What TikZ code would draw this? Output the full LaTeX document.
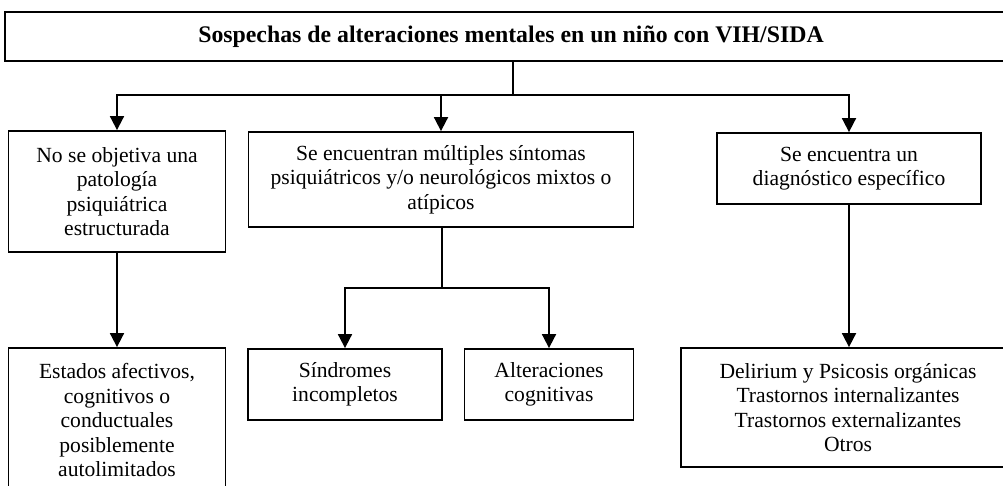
\documentclass[tikz,border=0pt]{standalone}
\usepackage{fontspec}
\setmainfont{Liberation Serif}
\usetikzlibrary{arrows.meta}
\begin{document}
\begin{tikzpicture}[x=1pt,y=-1pt,
  box/.style={draw,line width=1.8pt,align=center,inner sep=0pt,
    font=\fontsize{21.6}{24.5}\selectfont},
  conn/.style={line width=1.8pt},
  arr/.style={conn,-{Triangle[width=14pt,length=14pt]}}]
\useasboundingbox (0,0) rectangle (1003,486);
\node[box,minimum width=1012pt,minimum height=49pt,font=\fontsize{23.8}{26}\selectfont\bfseries] (top) at (511,36.5) {Sospechas de alteraciones mentales en un niño con VIH/SIDA};
\node[box,minimum width=217pt,minimum height=121pt] (A) at (117,191.5) {No se objetiva una\\patología\\psiquiátrica\\estructurada};
\node[box,minimum width=385pt,minimum height=95pt] (B) at (441,179.5) {Se encuentran múltiples síntomas\\psiquiátricos y/o neurológicos mixtos o\\atípicos};
\node[box,minimum width=264pt,minimum height=71pt] (C) at (849,168.5) {Se encuentra un\\diagnóstico específico};
\node[box,minimum width=217pt,minimum height=144pt] (D) at (117,420) {Estados afectivos,\\cognitivos o\\conductuales\\posiblemente\\autolimitados};
\node[box,minimum width=194pt,minimum height=71pt] (E) at (345,384.5) {Síndromes\\incompletos};
\node[box,minimum width=169pt,minimum height=71pt] (F) at (549,384.5) {Alteraciones\\cognitivas};
\node[box,minimum width=334pt,minimum height=119pt] (G) at (848,407.5) {Delirium y Psicosis orgánicas\\Trastornos internalizantes\\Trastornos externalizantes\\Otros};
\coordinate (j1) at (513,95);
\coordinate (j2) at (442,288);
\draw[conn] (top.south -| j1) -- (j1);
\draw[arr] (j1) -| (A.north);
\draw[arr] (j1) -| (B.north);
\draw[arr] (j1) -| (C.north);
\draw[conn] (B.south -| j2) -- (j2);
\draw[arr] (j2) -| (E.north);
\draw[arr] (j2) -| (F.north);
\draw[arr] (A.south) -- (D.north);
\draw[arr] (C.south) -- (C.south |- G.north);
\end{tikzpicture}
\end{document}
